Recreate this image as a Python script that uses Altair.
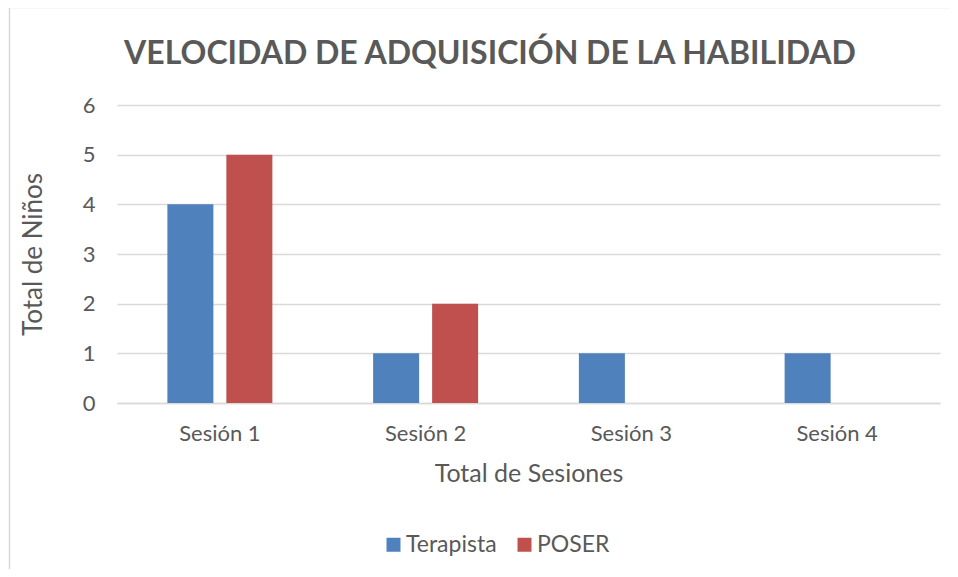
import altair as alt
import pandas as pd

sessions = ["Sesión 1", "Sesión 2", "Sesión 3", "Sesión 4"]
series = ["Terapista", "POSER"]
terapista = [4, 1, 1, 1]
poser = [5, 2, 0, 0]
colors = ["#4F81BD", "#C0504D"]

rows = []
for i, s in enumerate(sessions):
    rows.append({"Sesión": s, "Serie": "Terapista", "Valor": terapista[i]})
    rows.append({"Sesión": s, "Serie": "POSER", "Valor": poser[i]})
df = pd.DataFrame(rows)

FONT = "Lato"
GRAY = "#595959"

bars = alt.Chart(df).mark_bar().encode(
    x=alt.X("Sesión:N", sort=sessions,
            scale=alt.Scale(paddingInner=0, paddingOuter=0),
            axis=alt.Axis(title="Total de Sesiones", labelAngle=0, ticks=False, grid=False,
                          domainColor="#D9D9D9", domainWidth=1.5,
                          labelFont=FONT, labelFontSize=22, labelColor=GRAY, labelPadding=20,
                          titleFont=FONT, titleFontSize=25, titleFontWeight="normal",
                          titleColor=GRAY, titleX=411.5, titleY=70,
                          titleBaseline="middle", titleAlign="center")),
    xOffset=alt.XOffset("Serie:N", sort=series,
                        scale=alt.Scale(paddingInner=0.22, paddingOuter=0.854)),
    y=alt.Y("Valor:Q", scale=alt.Scale(domain=[0, 6], nice=False),
            axis=alt.Axis(title="Total de Niños", values=[0, 1, 2, 3, 4, 5, 6],
                          labelOverlap=False,
                          ticks=False, domain=False, gridColor="#D9D9D9", gridWidth=1.5,
                          labelFont=FONT, labelFontSize=22, labelColor=GRAY, labelPadding=22,
                          titleFont=FONT, titleFontSize=26, titleFontWeight="normal",
                          titleColor=GRAY, titleX=-84, titleY=149, titleAngle=-90,
                          titleBaseline="middle", titleAlign="center")),
    color=alt.Color("Serie:N", sort=series,
                    scale=alt.Scale(domain=series, range=colors),
                    legend=alt.Legend(title=None, orient="none", direction="horizontal",
                                      legendX=265, legendY=428, padding=0,
                                      symbolType="square", symbolSize=196,
                                      symbolStrokeWidth=0, symbolOpacity=1,
                                      labelFont=FONT, labelFontSize=23, labelColor=GRAY,
                                      labelOffset=1, columnPadding=16)),
)

frame_left = alt.Chart(pd.DataFrame({"a": [0]})).mark_rule(
    stroke="#D9D9D9", strokeWidth=1.5
).encode(x=alt.value(-107.5), y=alt.value(-97.5), y2=alt.value(600))

frame_top = alt.Chart(pd.DataFrame({"a": [0]})).mark_rule(
    stroke="#D9D9D9", strokeWidth=1.5
).encode(x=alt.value(-107.5), x2=alt.value(900), y=alt.value(-97.5))

chart = alt.layer(frame_left, frame_top, bars).properties(
    width=823, height=298,
    background="white",
    autosize=alt.AutoSizeParams(type="none"),
    padding={"left": 109, "top": 97, "right": 10, "bottom": 166},
    title=alt.Title("VELOCIDAD DE ADQUISICIÓN DE LA HABILIDAD", anchor="middle",
                    frame="group", font=FONT, fontSize=32, fontWeight="bold",
                    color=GRAY, baseline="alphabetic", offset=0, dy=89.5, dx=-38.5),
).configure_view(stroke="transparent", strokeWidth=0)

chart.save("out.html", embed_options={"renderer": "svg", "actions": False})
